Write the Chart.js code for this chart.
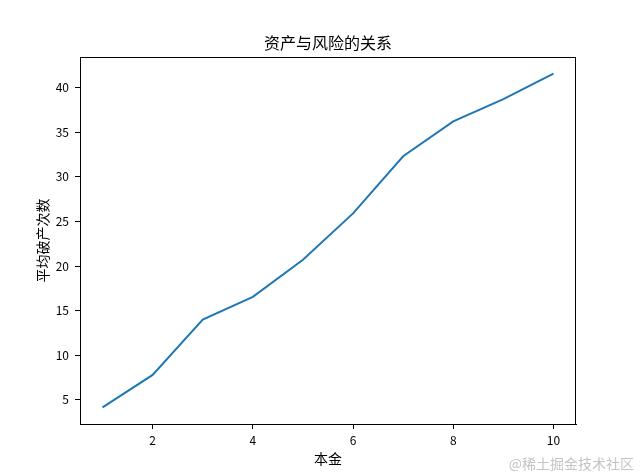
<!DOCTYPE html>
<html>
<head>
<meta charset="utf-8">
<script src="https://cdn.jsdelivr.net/npm/chart.js@4.4.1/dist/chart.umd.min.js"></script>
<style>
  html, body { margin: 0; padding: 0; background: #fff; }
  #wrap { width: 640px; height: 476px; }
</style>
</head>
<body>
<div id="wrap"><canvas id="riskChart" width="640" height="476"></canvas></div>
<script>
// Data
const principal = [1, 2, 3, 4, 5, 6, 7, 8, 9, 10];
const avgBankrupt = [4.17, 7.8, 14.0, 16.55, 20.7, 25.9, 32.3, 36.2, 38.7, 41.55];
const xTicks = [2, 4, 6, 8, 10];
const yTicks = [5, 10, 15, 20, 25, 30, 35, 40];

const titleText = '资产与风险的关系';
const xLabel = '本金';
const yLabel = '平均破产次数';
const watermark = '@稀土掘金技术社区';

const cjk = '"Noto Sans CJK SC", "Noto Sans", sans-serif';

// matplotlib-like 5% margins
function margins(vals) {
    const lo = Math.min(...vals), hi = Math.max(...vals);
    const m = (hi - lo) * 0.05;
    return [lo - m, hi + m];
}
const [xMin, xMax] = margins(principal);
const [yMin, yMax] = margins(avgBankrupt);

// Helper: frame + texts drawn the matplotlib way
const decorations = {
    id: 'decorations',
    afterDraw(chart) {
        const ctx = chart.ctx;
        const a = chart.chartArea;
        ctx.save();
        ctx.strokeStyle = '#000';
        ctx.lineWidth = 1;
        ctx.strokeRect(a.left + 0.5, a.top + 0.5, a.right - a.left - 1, a.bottom - a.top);

        ctx.fillStyle = '#000';
        ctx.textAlign = 'center';
        ctx.textBaseline = 'middle';
        ctx.font = '16px ' + cjk;
        ctx.fillText(titleText, (a.left + a.right) / 2, 43);

        ctx.font = '14px ' + cjk;
        ctx.fillText(xLabel, (a.left + a.right) / 2, 459);

        ctx.translate(43, (a.top + a.bottom) / 2);
        ctx.rotate(-Math.PI / 2);
        ctx.fillText(yLabel, 0, 0);
        ctx.restore();

        ctx.save();
        ctx.fillStyle = '#c4c4c4';
        ctx.textAlign = 'right';
        ctx.textBaseline = 'middle';
        ctx.font = '14px ' + cjk;
        ctx.fillText(watermark, 634, 464);
        ctx.restore();
    }
};

new Chart(document.getElementById('riskChart'), {
    type: 'line',
    data: {
        datasets: [{
            data: principal.map((x, i) => ({ x: x, y: avgBankrupt[i] })),
            borderColor: '#1f77b4',
            borderWidth: 2,
            pointRadius: 0,
            tension: 0,
            fill: false
        }]
    },
    options: {
        responsive: false,
        animation: false,
        devicePixelRatio: 1,
        layout: {
            padding: { left: 0, top: 57, right: 64, bottom: 0 }
        },
        plugins: {
            legend: { display: false },
            tooltip: { enabled: false },
            title: { display: false }
        },
        scales: {
            x: {
                type: 'linear',
                min: xMin,
                max: xMax,
                afterBuildTicks: axis => { axis.ticks = xTicks.map(v => ({ value: v })); },
                afterFit: s => { s.height = 52; },
                grid: {
                    drawOnChartArea: false,
                    drawTicks: true,
                    tickLength: 5,
                    color: '#000'
                },
                border: { display: true, color: '#000', width: 1 },
                ticks: {
                    padding: 4,
                    color: '#000',
                    maxRotation: 0,
                    font: { family: cjk, size: 12 }
                }
            },
            y: {
                type: 'linear',
                min: yMin,
                max: yMax,
                afterBuildTicks: axis => { axis.ticks = yTicks.map(v => ({ value: v })); },
                afterFit: s => { s.width = 80; },
                grid: {
                    drawOnChartArea: false,
                    drawTicks: true,
                    tickLength: 5,
                    color: '#000'
                },
                border: { display: true, color: '#000', width: 1 },
                ticks: {
                    padding: 6,
                    color: '#000',
                    font: { family: cjk, size: 12 }
                }
            }
        }
    },
    plugins: [decorations]
});
</script>
</body>
</html>
